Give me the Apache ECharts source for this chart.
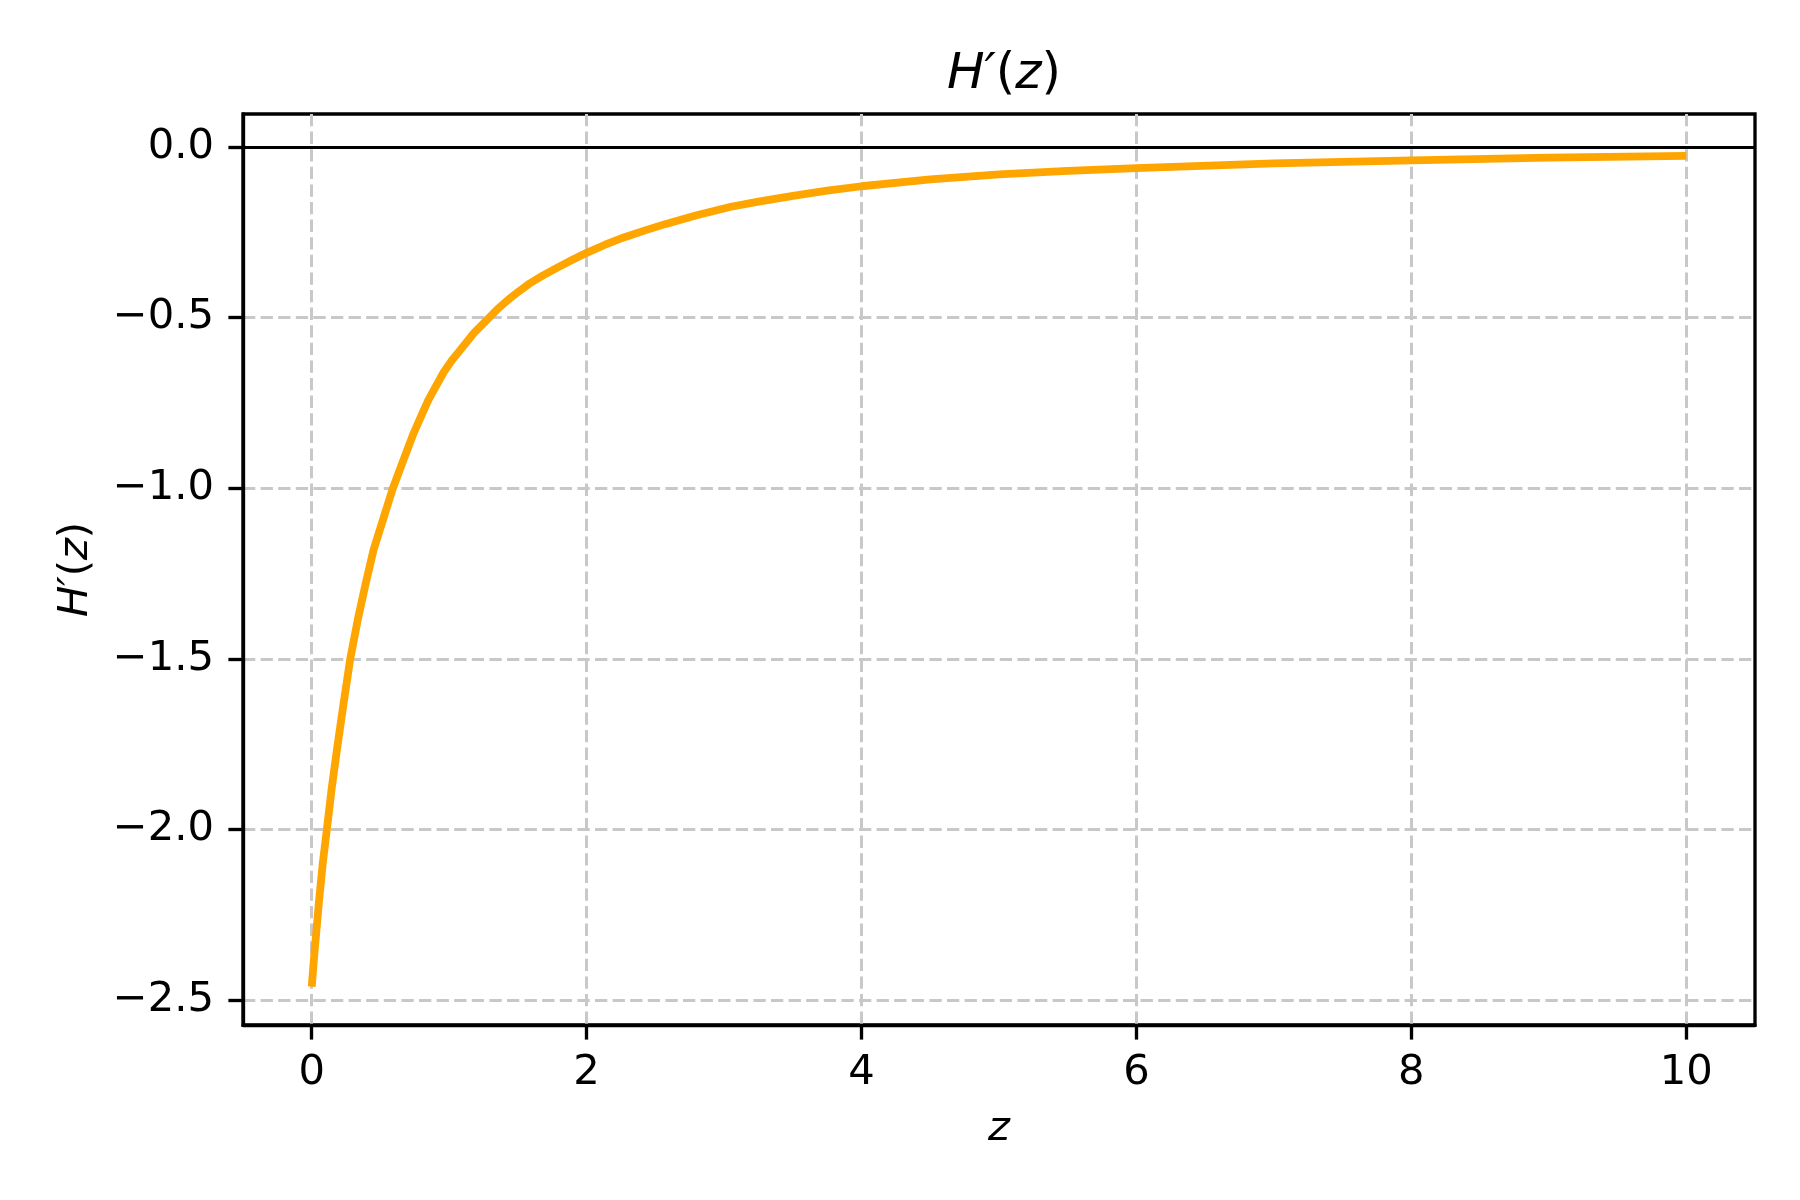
<!DOCTYPE html>
<html>
<head>
<meta charset="utf-8">
<script src="https://cdn.jsdelivr.net/npm/echarts@6/dist/echarts.min.js"></script>
<style>
  html, body { margin: 0; padding: 0; background: #ffffff; }
  #chart { width: 1800px; height: 1200px; }
</style>
</head>
<body>
<div id="chart"></div>
<script>
// values
const zValues = [0.0, 0.02, 0.053, 0.08, 0.11, 0.145, 0.182, 0.23, 0.28, 0.335, 0.392, 0.45, 0.52, 0.59, 0.66, 0.74, 0.80, 0.85, 0.905, 0.96, 1.02, 1.08, 1.18, 1.29, 1.36, 1.43, 1.51, 1.585, 1.68, 1.78, 1.89, 2.0, 2.13, 2.27, 2.42, 2.57, 2.8, 3.05, 3.25, 3.5, 3.75, 4.0, 4.5, 5.0, 5.5, 6.0, 7.0, 8.0, 9.0, 10.0];
const hPrime  = [-2.46, -2.36, -2.21, -2.10, -2.0, -1.88, -1.77, -1.635, -1.5, -1.385, -1.28, -1.18, -1.09, -1.0, -0.925, -0.84, -0.785, -0.74, -0.70, -0.66, -0.625, -0.595, -0.545, -0.5, -0.472, -0.447, -0.422, -0.40, -0.377, -0.355, -0.332, -0.31, -0.287, -0.265, -0.245, -0.226, -0.2, -0.175, -0.16, -0.143, -0.128, -0.115, -0.095, -0.08, -0.07, -0.062, -0.048, -0.039, -0.031, -0.026];
const xTicks = [0, 2, 4, 6, 8, 10];
const yTicks = [0.0, -0.5, -1.0, -1.5, -2.0, -2.5];
const xRange = [-0.5, 10.5];
const yRange = [-2.5725, 0.0967];

const seriesData = zValues.map((z, i) => [z, hPrime[i]]);
const fmtY = v => (v < 0 ? '\u2212' : '') + Math.abs(v).toFixed(1);

const FONT = 'DejaVu Sans';
const TICKFS = 41.7;
const gridStyle = { color: '#c8c8c8', width: 3.0, type: [12.3, 5.3] };

const chart = echarts.init(document.getElementById('chart'), null, { renderer: 'canvas' });
chart.setOption({
  backgroundColor: '#ffffff',
  animation: false,
  title: {
    text: '{i|H}{i|\u2032}{n|(}{i|z}{n|)}',
    left: 999,
    textAlign: 'center',
    top: 45,
    textStyle: {
      fontWeight: 'normal',
      rich: {
        i: { fontFamily: FONT, fontStyle: 'italic', fontWeight: 'normal', fontSize: 50, color: '#000' },
        n: { fontFamily: FONT, fontWeight: 'normal', fontSize: 50, color: '#000' }
      }
    }
  },
  grid: {
    left: 243, top: 114, right: 45, bottom: 175,
    show: true, borderColor: '#000', borderWidth: 3.33
  },
  xAxis: {
    type: 'value',
    min: xRange[0], max: xRange[1],
    name: '{i|z}',
    nameLocation: 'middle',
    nameGap: 83,
    nameTextStyle: { rich: { i: { fontFamily: FONT, fontStyle: 'italic', fontSize: TICKFS, color: '#000' } } },
    axisLine: { show: true, onZero: false, lineStyle: { color: '#000', width: 3.33 } },
    axisTick: { show: true, customValues: xTicks, length: 14.6, lineStyle: { color: '#000', width: 3.33 } },
    axisLabel: { customValues: xTicks, margin: 27, fontFamily: FONT, fontSize: TICKFS, color: '#000' },
    splitLine: { show: true, lineStyle: gridStyle }
  },
  yAxis: {
    type: 'value',
    min: yRange[0], max: yRange[1],
    name: '{i|H}{i|\u2032}{n|(}{i|z}{n|)}',
    nameLocation: 'middle',
    nameRotate: 90,
    nameGap: 146,
    nameTextStyle: {
      rich: {
        i: { fontFamily: FONT, fontStyle: 'italic', fontSize: TICKFS, color: '#000' },
        n: { fontFamily: FONT, fontSize: TICKFS, color: '#000' }
      }
    },
    axisLine: { show: true, onZero: false, lineStyle: { color: '#000', width: 3.33 } },
    axisTick: { show: true, customValues: yTicks, length: 14.6, lineStyle: { color: '#000', width: 3.33 } },
    axisLabel: { customValues: yTicks, margin: 29, fontFamily: FONT, fontSize: TICKFS, color: '#000', formatter: fmtY },
    splitLine: { show: true, lineStyle: gridStyle }
  },
  series: [{
    type: 'line',
    data: seriesData,
    showSymbol: false,
    smooth: false,
    lineStyle: { color: '#ffa500', width: 7.8, cap: 'butt', join: 'round' },
    markLine: {
      silent: true,
      symbol: ['none', 'none'],
      label: { show: false },
      lineStyle: { color: '#000', width: 3.0, type: 'solid' },
      data: [{ yAxis: 0 }]
    },
    z: 3
  }]
});
</script>
</body>
</html>
